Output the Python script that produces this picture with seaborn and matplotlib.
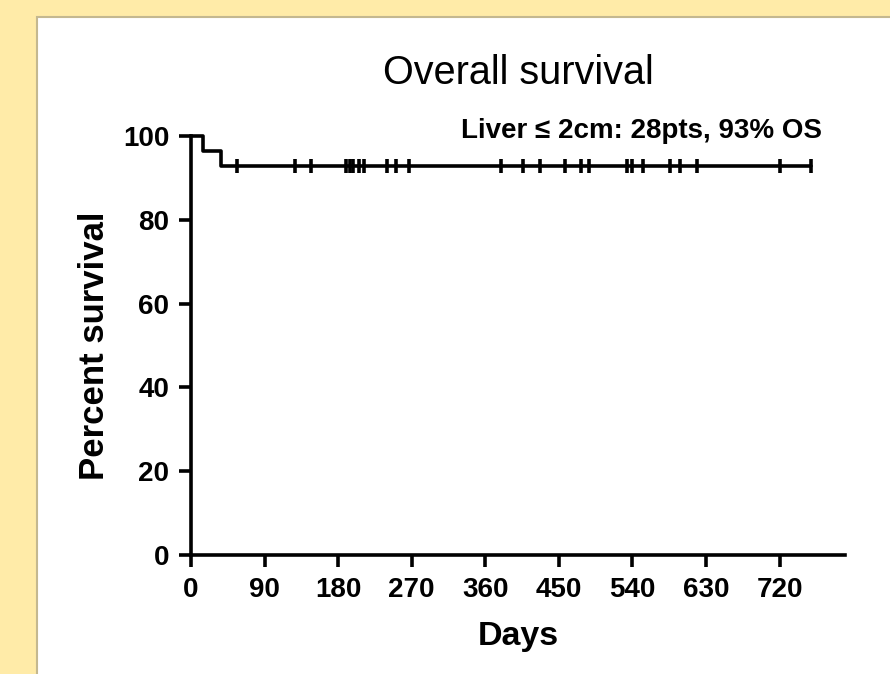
import numpy as np
import pandas as pd
import matplotlib
matplotlib.use("Agg")
import matplotlib.pyplot as plt
import seaborn as sns
from matplotlib.patches import Rectangle

# -----------------------------
# Data
# -----------------------------
n_patients = 28
death_days = [15, 37]
censor_days = [56, 127, 147, 190, 194, 198, 205, 212, 240, 251, 267,
               379, 406, 427, 457, 477, 487, 533, 540, 553, 586, 598, 619,
               720, 758]
x_ticks = [0, 90, 180, 270, 360, 450, 540, 630, 720]
y_ticks = [0, 20, 40, 60, 80, 100]
title = "Overall survival"
note = "Liver \u2264 2cm: 28pts, 93% OS"

# -----------------------------
# Kaplan-Meier estimate
# -----------------------------
ev = pd.DataFrame({"day": death_days + censor_days,
                   "event": [1] * len(death_days) + [0] * len(censor_days)})
ev = ev.sort_values("day").reset_index(drop=True)
at_risk = n_patients
surv = 100.0
rows = [(0, 100.0)]
cens_pts = []
for day, grp in ev.groupby("day"):
    d = grp["event"].sum()
    if d > 0:
        surv = surv * (1 - d / at_risk)
        rows.append((day, surv))
    if (grp["event"] == 0).any():
        cens_pts.append((day, surv))
    at_risk -= len(grp)
rows.append((max(ev["day"]), surv))
km = pd.DataFrame(rows, columns=["day", "surv"])
cens = pd.DataFrame(cens_pts, columns=["day", "surv"])

# -----------------------------
# Figure
# -----------------------------
sns.set_style("ticks", {"axes.edgecolor": "black", "text.color": "black",
                        "xtick.color": "black", "ytick.color": "black",
                        "axes.labelcolor": "black"})
plt.rcParams["font.family"] = ["Liberation Sans", "DejaVu Sans"]

fig = plt.figure(figsize=(8.9, 6.74), dpi=100)
fig.patch.set_facecolor("#FFEBA8")
fig.patches.append(Rectangle((37 / 890, -0.1), 1.2, 1 - 17 / 674 + 0.1,
                             transform=fig.transFigure, facecolor="white",
                             edgecolor="#C4B890", linewidth=1.5, zorder=-1))

ax = fig.add_axes([191 / 890, 1 - 555 / 674, 654 / 890, 419 / 674])
ax.set_facecolor("none")

sns.lineplot(data=km, x="day", y="surv", drawstyle="steps-post",
             estimator=None, color="black", linewidth=2.6, ax=ax,
             clip_on=False)
ax.plot(cens["day"], cens["surv"], linestyle="none", marker="|",
        markersize=10, markeredgewidth=2.6, color="black", clip_on=False)

ax.set_xlim(0, 800)
ax.set_ylim(0, 100)
ax.set_xticks(x_ticks)
ax.set_yticks(y_ticks)
sns.despine(ax=ax)
for s in ["left", "bottom"]:
    ax.spines[s].set_linewidth(2.6)
ax.tick_params(direction="out", length=8.5, width=2.6, pad=7,
               labelsize=20, colors="black")
for lab in ax.get_xticklabels() + ax.get_yticklabels():
    lab.set_fontweight("bold")

ax.set_xlabel("Days", fontsize=24.5, fontweight="bold", labelpad=13)
ax.set_ylabel("Percent survival", fontsize=25, fontweight="bold",
              labelpad=9)

ax.text(0.5, 1.15, title, transform=ax.transAxes, ha="center",
        va="center", fontsize=28.5)
ax.text(0.965, 1.011, note, transform=ax.transAxes, ha="right",
        va="center", fontsize=20, fontweight="bold")

plt.savefig("out.png", dpi=100, facecolor=fig.get_facecolor())
